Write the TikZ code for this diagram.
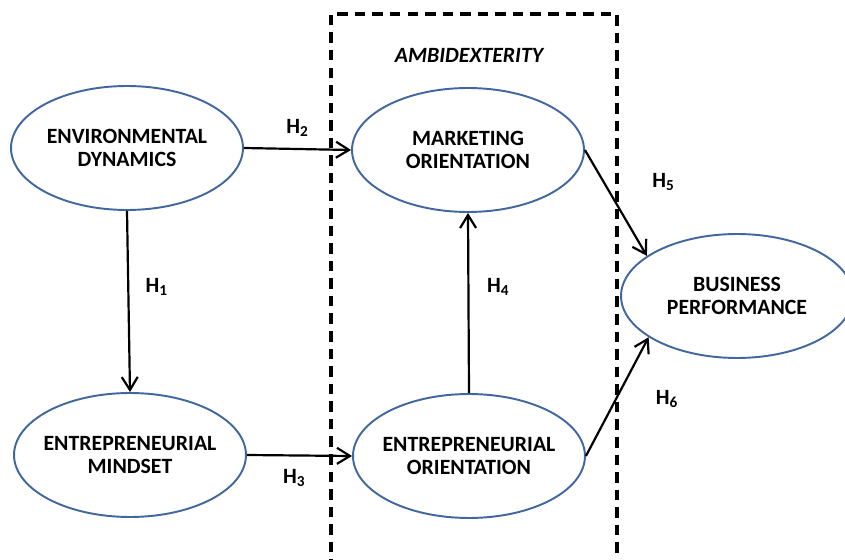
\documentclass[tikz,border=0pt]{standalone}
\usepackage{fontspec}
\setmainfont{Carlito}
\usetikzlibrary{arrows.meta}
\usetikzlibrary{shapes.geometric}

\definecolor{ovalblue}{RGB}{65,103,158}

\tikzset{
  construct/.style={ellipse, draw=ovalblue, line width=1.1pt, minimum width=4.64cm,
    minimum height=2.48cm, inner xsep=-0.8cm, inner ysep=-0.3cm, align=center,
    font=\fontsize{12.4}{12.7}\selectfont\bfseries},
  path/.style={line width=1.25pt, -{Straight Barb[length=2.6mm, width=3.2mm, line width=1.25pt]}},
  hyp/.style={font=\fontsize{12.4}{12.7}\selectfont\bfseries}
}
\newcommand{\hyplabel}[1]{H\textsubscript{#1}}

\begin{document}
\begin{tikzpicture}[x=0.02cm, y=-0.02cm]
\useasboundingbox (0, 0) rectangle (845, 560);
% ambidexterity block
\draw [line width=2pt, dash pattern=on 6pt off 4pt] (331, 570) -- (331, 14) -- (617, 14) -- (617, 570);
\node [font=\fontsize{12.4}{12.7}\selectfont\bfseries\itshape] (ambi) at (469, 55) {AMBIDEXTERITY};

\node [construct] (envdyn) at (127, 148) {ENVIRONMENTAL\\DYNAMICS};
\node [construct] (mindset) at (130, 455) {ENTREPRENEURIAL\\MINDSET};
\node [construct] (mktor) at (468, 150) {MARKETING\\ORIENTATION};
\node [construct] (entor) at (469, 456) {ENTREPRENEURIAL\\ORIENTATION};
\node [construct] (busperf) at (737, 296) {BUSINESS\\PERFORMANCE};

\draw [path] (envdyn.south) -- (mindset.north) node [hyp, pos=0.42, xshift=0.57cm] {\hyplabel{1}};
\draw [path] (envdyn.east) -- (mktor.west) node [hyp, pos=0.5, yshift=0.42cm] {\hyplabel{2}};
\draw [path] (mindset.east) -- (entor.west) node [hyp, pos=0.45, yshift=-0.45cm] {\hyplabel{3}};
\draw [path] (entor.north) -- (mktor.south) node [hyp, pos=0.59, xshift=0.6cm] {\hyplabel{4}};
\draw [path] (mktor.east) -- (busperf.156) node [hyp, pos=0.3, xshift=1.2cm] {\hyplabel{5}};
\draw [path] (entor.east) -- (busperf.205) node [hyp, pos=0.48, xshift=1.02cm] {\hyplabel{6}};
\end{tikzpicture}
\end{document}
